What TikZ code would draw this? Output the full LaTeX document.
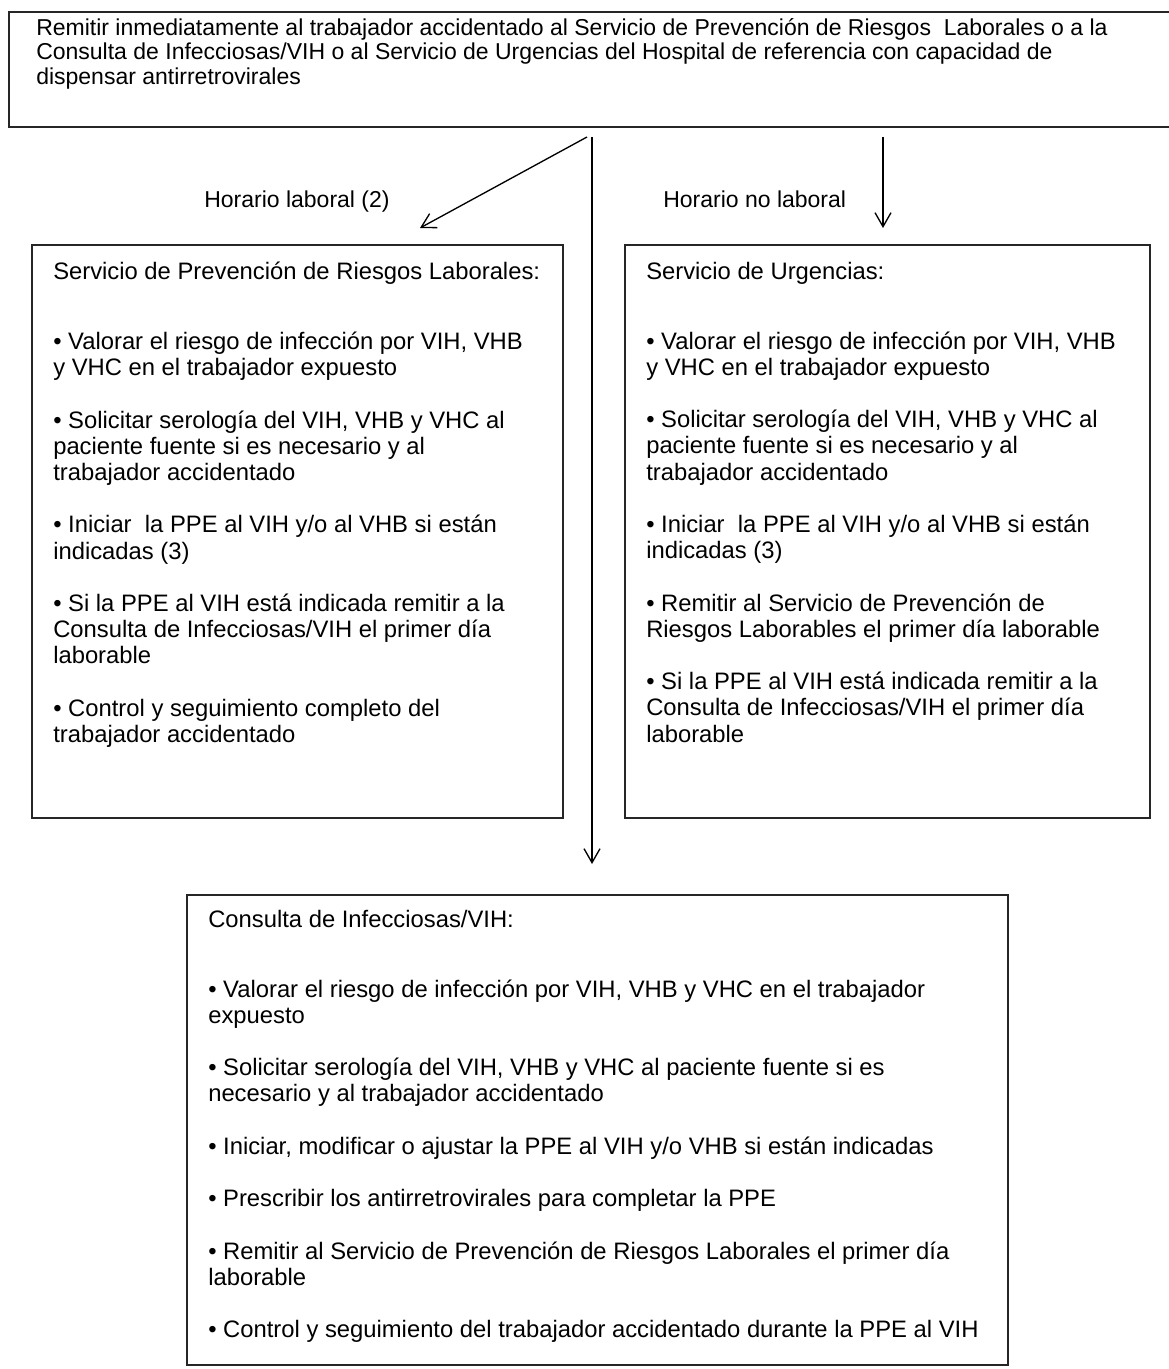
\documentclass[tikz,border=0pt]{standalone}
\usepackage{fontspec}
\setmainfont{Liberation Sans}
\usetikzlibrary{arrows.meta,fit}
\newcommand{\trastitulo}{\\[32.8pt]}
\newcommand{\entre}{\\[19.65pt]}

\begin{document}
\begin{tikzpicture}[x=0.75pt,y=-0.75pt,
    caja/.style={draw=black!85,line width=1pt,inner sep=0pt},
    texto/.style={anchor=north west,align=left,inner sep=0pt,font=\fontsize{17.85}{19.65}\selectfont,execute at begin node=\strut},
    cabecera/.style={texto,font=\fontsize{17.25}{18.4}\selectfont},
    flecha/.style={line width=1pt,-{Straight Barb[length=10.5pt,width=12pt]}}]
    \useasboundingbox (0,0) rectangle (1168,1369);
    % cajas
    \node[caja,fit={(9,12) (1185,127)}] (remitir) {};
    \node[caja,fit={(32,245) (563,818)}] (prevencion) {};
    \node[caja,fit={(625,245) (1150,818)}] (urgencias) {};
    \node[caja,fit={(187,895) (1008,1365)}] (consulta) {};
    % textos
    \node[cabecera] (remitirtxt) at (36,18) {Remitir inmediatamente al trabajador accidentado al Servicio de Prevención de Riesgos~ Laborales o a la\\
        Consulta de Infecciosas/VIH o al Servicio de Urgencias del Hospital de referencia con capacidad de\\
        dispensar antirretrovirales};
    \node[texto] (prevenciontxt) at (53,261.7) {Servicio de Prevención de Riesgos Laborales:\trastitulo
        • Valorar el riesgo de infección por VIH, VHB\\ y VHC en el trabajador expuesto\entre
        • Solicitar serología del VIH, VHB y VHC al\\ paciente fuente si es necesario y al\\ trabajador accidentado\entre
        • Iniciar~ la PPE al VIH y/o al VHB si están\\ indicadas (3)\entre
        • Si la PPE al VIH está indicada remitir a la\\ Consulta de Infecciosas/VIH el primer día\\ laborable\entre
        • Control y seguimiento completo del\\ trabajador accidentado};
    \node[texto] (urgenciastxt) at (646,261.7) {Servicio de Urgencias:\trastitulo
        • Valorar el riesgo de infección por VIH, VHB\\ y VHC en el trabajador expuesto\entre
        • Solicitar serología del VIH, VHB y VHC al\\ paciente fuente si es necesario y al\\ trabajador accidentado\entre
        • Iniciar~ la PPE al VIH y/o al VHB si están\\ indicadas (3)\entre
        • Remitir al Servicio de Prevención de\\ Riesgos Laborables el primer día laborable\entre
        • Si la PPE al VIH está indicada remitir a la\\ Consulta de Infecciosas/VIH el primer día\\ laborable};
    \node[texto] (consultatxt) at (208,909.7) {Consulta de Infecciosas/VIH:\trastitulo
        • Valorar el riesgo de infección por VIH, VHB y VHC en el trabajador\\ expuesto\entre
        • Solicitar serología del VIH, VHB y VHC al paciente fuente si es\\ necesario y al trabajador accidentado\entre
        • Iniciar, modificar o ajustar la PPE al VIH y/o VHB si están indicadas\entre
        • Prescribir los antirretrovirales para completar la PPE\entre
        • Remitir al Servicio de Prevención de Riesgos Laborales el primer día\\ laborable\entre
        • Control y seguimiento del trabajador accidentado durante la PPE al VIH};
    \node[cabecera,anchor=base west] (laboral) at (204,208) {Horario laboral (2)};
    \node[cabecera,anchor=base west] (nolaboral) at (663,208) {Horario no laboral};
    % flechas
    \coordinate (salidaA) at (587,137);
    \coordinate (salidaB) at (592,137);
    \coordinate (salidaC) at (883,137);
    \coordinate (llegadaA) at (420,228);
    \coordinate (llegadaB) at (592,864);
    \coordinate (llegadaC) at (883,228);
    \draw[flecha] (salidaA) -- (llegadaA);
    \draw[flecha] (salidaB) -- (llegadaB);
    \draw[flecha] (salidaC) -- (llegadaC);
\end{tikzpicture}
\end{document}
